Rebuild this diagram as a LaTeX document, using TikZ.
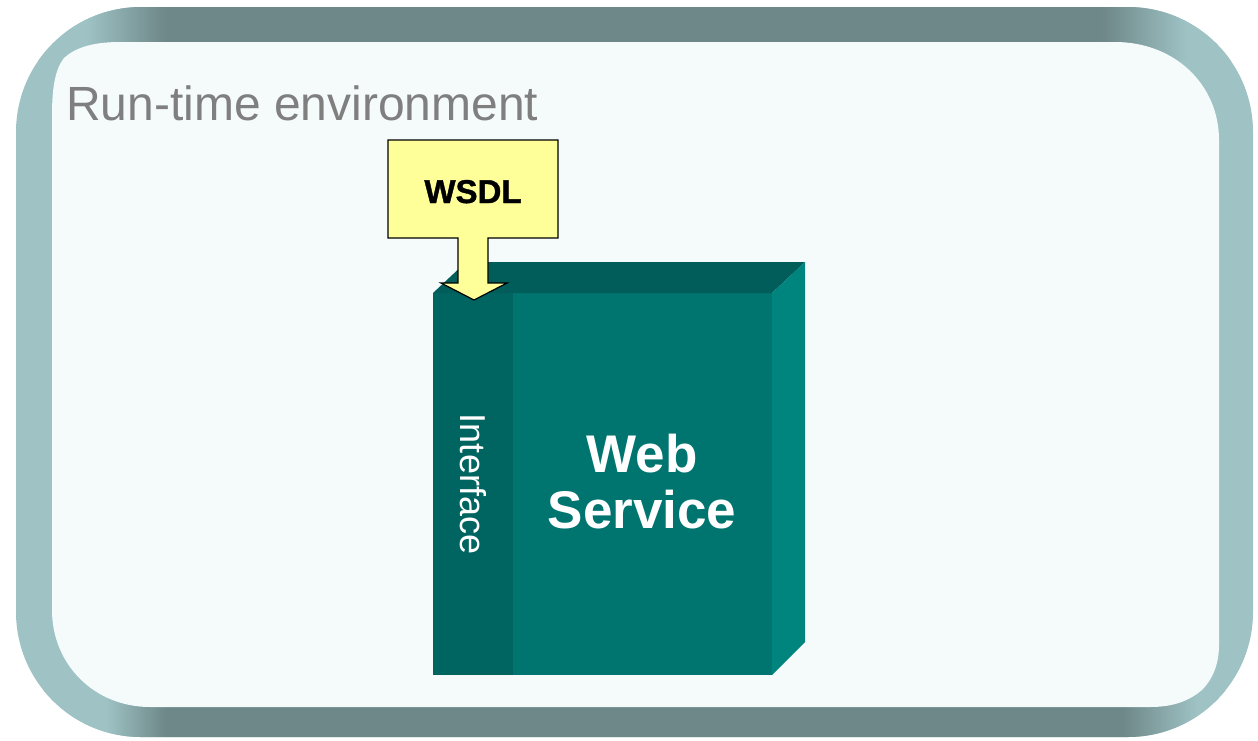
\documentclass[tikz,border=0pt]{standalone}
\usepackage{fontspec}
\setmainfont{Liberation Sans}
\newfontfamily\heavysans[FakeBold=1.2]{Liberation Sans}

\definecolor{bandlight}{HTML}{9FC3C5}
\definecolor{banddark}{HTML}{6E8788}
\definecolor{paper}{HTML}{F5FBFB}
\definecolor{titlegray}{HTML}{7F7F7F}
\definecolor{calloutfill}{HTML}{FFFF99}
\definecolor{boxfront}{HTML}{007570}
\definecolor{boxiface}{HTML}{006560}
\definecolor{boxtop}{HTML}{005D59}
\definecolor{boxside}{HTML}{00847E}

% horizontal shadings for the dark top and bottom runs of the frame band
% (the path's bounding box spans 25bp..75bp of the shading)
\pgfdeclarehorizontalshading{topband}{100bp}{%
  color(0bp)=(bandlight); color(28.4bp)=(bandlight);
  color(31.6bp)=(banddark); color(68.8bp)=(banddark);
  color(72.2bp)=(bandlight); color(100bp)=(bandlight)}
\pgfdeclarehorizontalshading{bottomband}{100bp}{%
  color(0bp)=(bandlight); color(29.2bp)=(bandlight);
  color(31.6bp)=(banddark); color(69.6bp)=(banddark);
  color(72.6bp)=(bandlight); color(100bp)=(bandlight)}

\tikzset{
  titletext/.style={anchor=base west, inner sep=0pt, text=titlegray,
    font=\fontsize{48}{56}\selectfont},
  callout/.style={draw=black, line width=1.2pt, fill=calloutfill, line join=miter},
  callouttext/.style={anchor=base, inner sep=0pt, text=black,
    font=\heavysans\bfseries\fontsize{33}{38}\selectfont},
  servicetext/.style={anchor=base, inner sep=0pt, text=white, align=center,
    font=\bfseries\fontsize{53}{56}\selectfont},
  ifacetext/.style={anchor=base, inner sep=0pt, text=white, rotate=-90,
    font=\fontsize{36}{40}\selectfont},
}

\begin{document}
\begin{tikzpicture}[x=1pt, y=-1pt]
\useasboundingbox (0,0) rectangle (1258,740);

% ---- frame: outer band ----
\def\outerframe{(16,7) [rounded corners=125pt] rectangle (1253,737)}
\fill[bandlight] \outerframe;
\begin{scope}
  \clip \outerframe;
  \shade[shading=topband] (0,0) rectangle (1258,60);
  \shade[shading=bottomband] (0,690) rectangle (1258,740);
\end{scope}

% ---- frame: inner paper with curled corners ----
\fill[paper] (120,42) -- (1115,42)
  .. controls (1175,42) and (1219,85) .. (1219,140) -- (1219,645)
  .. controls (1219,665) and (1212,680) .. (1202,690)
  .. controls (1190,700) and (1175,707) .. (1150,707) -- (150,707)
  .. controls (95,707) and (52,665) .. (52,610) -- (52,115)
  .. controls (52,85) and (56,68) .. (64,58)
  .. controls (75,48) and (92,42) .. (120,42) -- cycle;

\node[titletext] (title) at (66,120) {Run-time environment};

% ---- web service block ----
\fill[boxfront] (433,293) rectangle (772,675);
\fill[boxiface] (433,293) rectangle (513,675);
\fill[boxtop] (433,293) -- (466,262) -- (805,262) -- (772,293) -- cycle;
\fill[boxside] (772,293) -- (805,262) -- (805,642) -- (772,675) -- cycle;

\node[ifacetext] (iface) at (460,484) {Interface};
% base anchor of a two-line node sits on the last line's baseline
\node[servicetext] (ws) at (642,528) {Web\\Service};

% ---- WSDL down-arrow callout ----
\path[callout] (388,140) -- (558,140) -- (558,238) -- (488,238) -- (488,283)
  -- (507,283) -- (474,300) -- (441,283) -- (458,283) -- (458,238)
  -- (388,238) -- cycle;
\node[callouttext] (wsdl) at (473,203) {WSDL};

\end{tikzpicture}
\end{document}
